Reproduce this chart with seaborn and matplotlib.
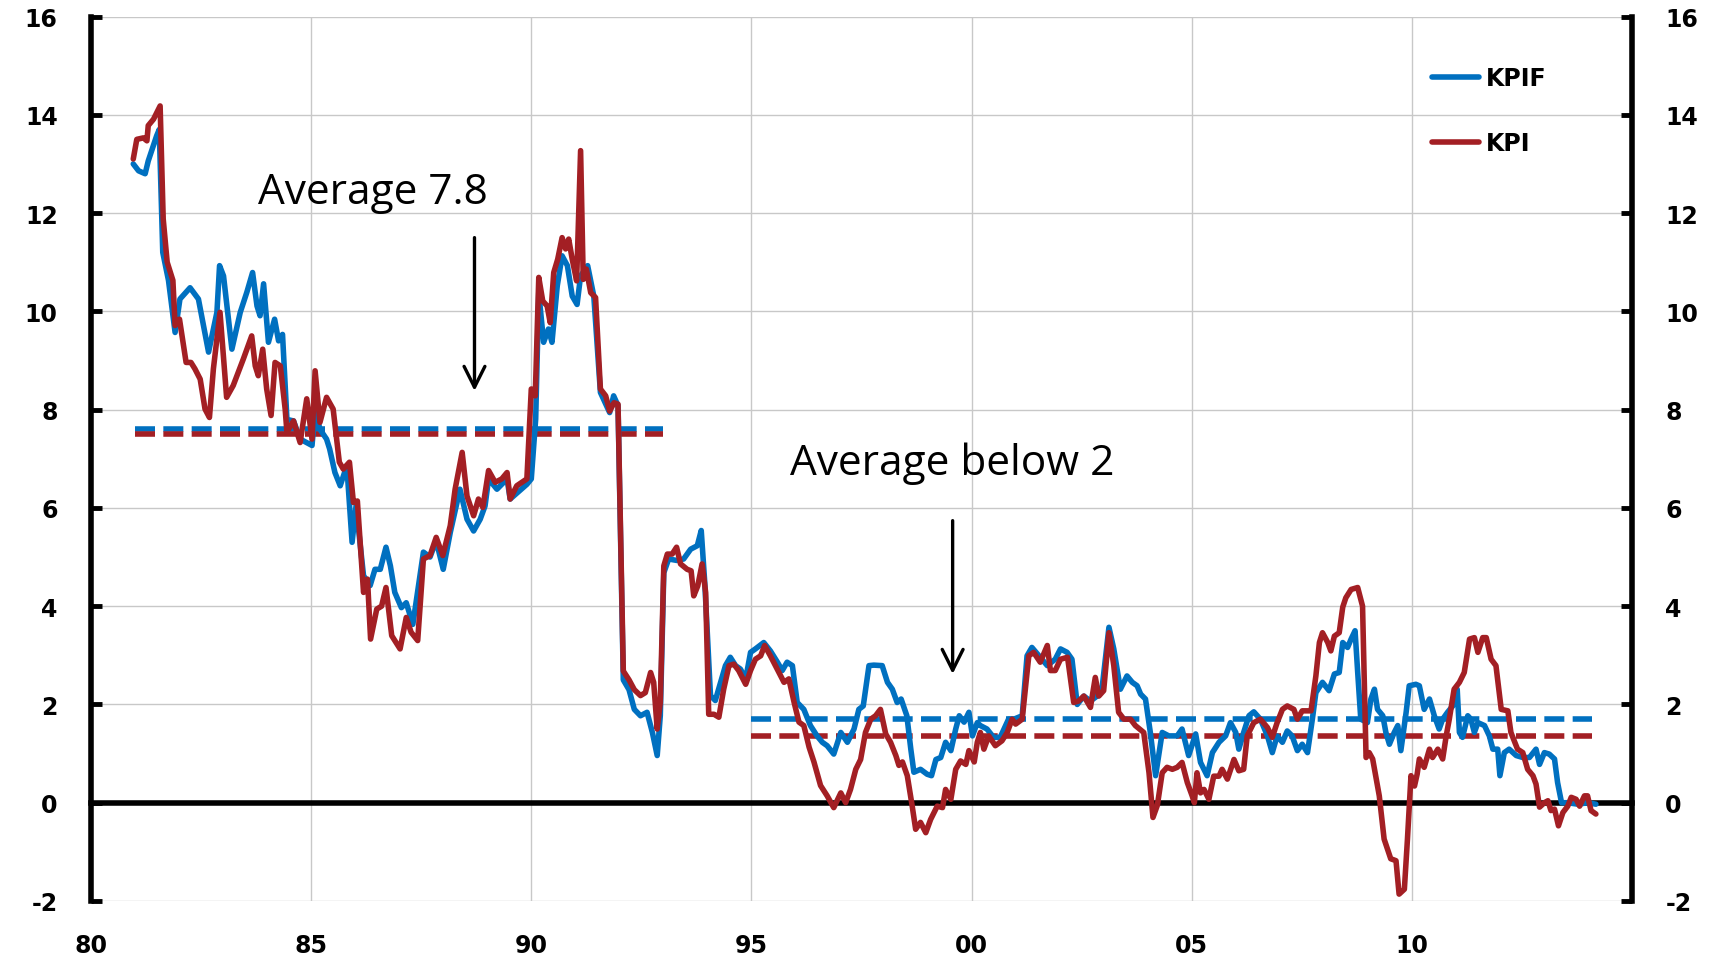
import pandas as pd
import matplotlib
matplotlib.use('Agg')
import matplotlib.pyplot as plt
from matplotlib.lines import Line2D
import seaborn as sns

# Data (annual % change, monthly-ish vertices)
kpif_year = [1980.96, 1981.08, 1981.23, 1981.3, 1981.49, 1981.55, 1981.63, 1981.76, 1981.91, 1982.02,
             1982.25, 1982.44, 1982.67, 1982.86, 1982.92, 1983.01, 1983.2, 1983.39, 1983.54, 1983.67,
             1983.77, 1983.84, 1983.92, 1984.03, 1984.17, 1984.26, 1984.35, 1984.45, 1984.6, 1984.75,
             1985.02, 1985.09, 1985.2, 1985.35, 1985.42, 1985.54, 1985.66, 1985.81, 1985.93, 1986.02,
             1986.19, 1986.34, 1986.45, 1986.57, 1986.7, 1986.8, 1986.9, 1987.05, 1987.16, 1987.31,
             1987.55, 1987.7, 1987.84, 1988.0, 1988.16, 1988.38, 1988.54, 1988.69, 1988.84, 1988.95,
             1989.03, 1989.22, 1989.45, 1989.52, 1989.9, 1990.0, 1990.1, 1990.17, 1990.28, 1990.39,
             1990.47, 1990.59, 1990.7, 1990.82, 1990.93, 1991.04, 1991.12, 1991.28, 1991.42, 1991.57,
             1991.78, 1991.87, 1991.97, 1992.09, 1992.22, 1992.34, 1992.48, 1992.63, 1992.75, 1992.86,
             1992.93, 1993.01, 1993.12, 1993.31, 1993.46, 1993.62, 1993.77, 1993.86, 1993.94, 1994.07,
             1994.18, 1994.3, 1994.41, 1994.52, 1994.64, 1994.75, 1994.87, 1994.98, 1995.09, 1995.28,
             1995.43, 1995.59, 1995.7, 1995.81, 1995.93, 1996.04, 1996.19, 1996.34, 1996.49, 1996.61,
             1996.72, 1996.87, 1997.03, 1997.18, 1997.33, 1997.44, 1997.54, 1997.67, 1997.78, 1997.97,
             1998.09, 1998.2, 1998.31, 1998.4, 1998.53, 1998.62, 1998.69, 1998.84, 1998.99, 1999.09,
             1999.19, 1999.3, 1999.41, 1999.53, 1999.64, 1999.72, 1999.83, 1999.94, 2000.02, 2000.13,
             2000.2, 2000.35, 2000.5, 2000.65, 2000.84, 2000.96, 2001.15, 2001.26, 2001.37, 2001.53,
             2001.72, 2001.9, 2002.02, 2002.17, 2002.28, 2002.4, 2002.55, 2002.7, 2002.85, 2002.97,
             2003.12, 2003.23, 2003.38, 2003.53, 2003.65, 2003.76, 2003.84, 2003.95, 2004.06, 2004.18,
             2004.33, 2004.48, 2004.67, 2004.78, 2004.93, 2005.09, 2005.2, 2005.35, 2005.47, 2005.62,
             2005.77, 2005.88, 2006.0, 2006.07, 2006.18, 2006.3, 2006.41, 2006.56, 2006.72, 2006.83,
             2006.94, 2007.06, 2007.17, 2007.28, 2007.4, 2007.51, 2007.63, 2007.74, 2007.82, 2007.97,
             2008.12, 2008.24, 2008.35, 2008.43, 2008.54, 2008.62, 2008.71, 2008.77, 2008.84, 2008.99,
             2009.07, 2009.15, 2009.22, 2009.34, 2009.41, 2009.49, 2009.6, 2009.68, 2009.75, 2009.87,
             2009.94, 2010.09, 2010.17, 2010.28, 2010.4, 2010.51, 2010.62, 2010.7, 2010.81, 2010.93,
             2011.03, 2011.08, 2011.15, 2011.27, 2011.34, 2011.42, 2011.5, 2011.65, 2011.76, 2011.84,
             2011.95, 2012.0, 2012.1, 2012.21, 2012.37, 2012.52, 2012.67, 2012.82, 2012.9, 2013.01,
             2013.12, 2013.24, 2013.31, 2013.4, 2013.54, 2013.77, 2014.0, 2014.18]
kpif_value = [13.0, 12.86, 12.8, 13.06, 13.57, 13.7, 11.2, 10.63, 9.57, 10.25,
              10.48, 10.25, 9.17, 9.98, 10.93, 10.72, 9.23, 9.98, 10.39, 10.79,
              10.11, 9.91, 10.56, 9.37, 9.84, 9.4, 9.53, 7.8, 7.77, 7.4,
              7.27, 8.0, 7.6, 7.4, 7.2, 6.72, 6.45, 6.86, 5.3, 6.04,
              4.62, 4.42, 4.75, 4.75, 5.2, 4.82, 4.28, 3.97, 4.07, 3.63,
              5.1, 5.0, 5.33, 4.75, 5.5, 6.38, 5.77, 5.53, 5.77, 6.04,
              6.59, 6.38, 6.59, 6.18, 6.48, 6.59, 7.81, 10.38, 9.37, 9.64,
              9.37, 10.52, 11.13, 10.93, 10.31, 10.14, 10.72, 10.93, 10.31, 8.35,
              7.94, 8.28, 8.08, 2.5, 2.3, 1.9, 1.77, 1.84, 1.43, 0.96,
              1.77, 4.68, 4.96, 4.93, 4.96, 5.16, 5.23, 5.54, 4.48, 2.18,
              2.08, 2.45, 2.79, 2.96, 2.79, 2.72, 2.52, 3.06, 3.13, 3.26,
              3.09, 2.86, 2.69, 2.86, 2.79, 2.04, 1.9, 1.57, 1.36, 1.23,
              1.16, 0.99, 1.43, 1.23, 1.5, 1.9, 1.97, 2.79, 2.8, 2.79,
              2.45, 2.31, 2.04, 2.11, 1.77, 1.09, 0.62, 0.68, 0.58, 0.55,
              0.88, 0.92, 1.23, 1.06, 1.5, 1.77, 1.64, 1.84, 1.36, 1.63,
              1.57, 1.5, 1.33, 1.33, 1.7, 1.7, 1.77, 2.99, 3.16, 2.99,
              2.79, 2.92, 3.13, 3.06, 2.92, 2.0, 2.17, 2.07, 2.17, 2.38,
              3.57, 3.13, 2.31, 2.58, 2.45, 2.38, 2.21, 2.11, 1.43, 0.55,
              1.43, 1.36, 1.36, 1.5, 0.96, 1.4, 0.82, 0.55, 1.02, 1.23,
              1.36, 1.63, 1.43, 1.09, 1.43, 1.77, 1.85, 1.7, 1.36, 1.02,
              1.36, 1.23, 1.46, 1.36, 1.06, 1.19, 1.02, 1.7, 2.24, 2.45,
              2.28, 2.62, 2.65, 3.26, 3.16, 3.33, 3.5, 2.65, 1.7, 1.63,
              2.11, 2.31, 1.9, 1.77, 1.43, 1.19, 1.43, 1.57, 1.06, 1.84,
              2.38, 2.41, 2.38, 1.9, 2.11, 1.77, 1.5, 1.7, 1.84, 1.97,
              2.31, 1.43, 1.33, 1.77, 1.7, 1.43, 1.63, 1.57, 1.36, 1.09,
              1.09, 0.55, 1.02, 1.09, 0.96, 0.92, 0.92, 1.09, 0.78, 1.02,
              0.99, 0.89, 0.41, 0.0, 0.0, -0.03, 0.0, -0.03]

kpi_year = [1980.96, 1981.04, 1981.19, 1981.27, 1981.3, 1981.42, 1981.57, 1981.64, 1981.73, 1981.86,
            1981.91, 1982.01, 1982.16, 1982.27, 1982.36, 1982.48, 1982.59, 1982.69, 1982.78, 1982.93,
            1983.08, 1983.23, 1983.46, 1983.65, 1983.73, 1983.8, 1983.9, 1983.99, 1984.09, 1984.18,
            1984.3, 1984.41, 1984.45, 1984.6, 1984.75, 1984.9, 1985.02, 1985.09, 1985.2, 1985.35,
            1985.5, 1985.64, 1985.73, 1985.87, 1985.96, 1986.05, 1986.19, 1986.28, 1986.35, 1986.49,
            1986.6, 1986.7, 1986.83, 1987.02, 1987.16, 1987.27, 1987.42, 1987.55, 1987.7, 1987.84,
            1987.99, 1988.16, 1988.27, 1988.43, 1988.54, 1988.69, 1988.8, 1988.9, 1989.03, 1989.18,
            1989.33, 1989.45, 1989.52, 1989.67, 1989.9, 1990.0, 1990.09, 1990.17, 1990.26, 1990.36,
            1990.43, 1990.51, 1990.6, 1990.7, 1990.78, 1990.85, 1990.93, 1991.03, 1991.12, 1991.18,
            1991.25, 1991.35, 1991.46, 1991.57, 1991.69, 1991.78, 1991.88, 1991.97, 1992.09, 1992.22,
            1992.34, 1992.48, 1992.59, 1992.71, 1992.78, 1992.86, 1992.93, 1993.01, 1993.09, 1993.2,
            1993.3, 1993.39, 1993.54, 1993.63, 1993.69, 1993.78, 1993.88, 1993.96, 1994.03, 1994.15,
            1994.26, 1994.37, 1994.49, 1994.6, 1994.71, 1994.87, 1994.98, 1995.09, 1995.21, 1995.3,
            1995.43, 1995.59, 1995.74, 1995.85, 1995.97, 1996.08, 1996.19, 1996.31, 1996.42, 1996.57,
            1996.72, 1996.87, 1997.03, 1997.14, 1997.25, 1997.37, 1997.48, 1997.59, 1997.71, 1997.82,
            1997.93, 1998.05, 1998.16, 1998.28, 1998.35, 1998.43, 1998.54, 1998.65, 1998.73, 1998.84,
            1998.96, 1999.07, 1999.22, 1999.34, 1999.41, 1999.53, 1999.64, 1999.75, 1999.87, 1999.94,
            2000.06, 2000.13, 2000.2, 2000.28, 2000.39, 2000.54, 2000.69, 2000.81, 2000.92, 2001.0,
            2001.15, 2001.22, 2001.3, 2001.41, 2001.56, 2001.72, 2001.79, 2001.9, 2002.02, 2002.18,
            2002.32, 2002.43, 2002.55, 2002.7, 2002.81, 2002.89, 2003.0, 2003.12, 2003.23, 2003.34,
            2003.46, 2003.61, 2003.72, 2003.91, 2004.03, 2004.12, 2004.22, 2004.33, 2004.44, 2004.56,
            2004.67, 2004.78, 2004.9, 2005.01, 2005.06, 2005.12, 2005.2, 2005.28, 2005.39, 2005.5,
            2005.62, 2005.69, 2005.81, 2005.96, 2006.07, 2006.18, 2006.26, 2006.41, 2006.56, 2006.72,
            2006.83, 2006.94, 2007.06, 2007.17, 2007.32, 2007.4, 2007.51, 2007.71, 2007.82, 2007.9,
            2007.97, 2008.09, 2008.16, 2008.24, 2008.35, 2008.43, 2008.5, 2008.62, 2008.77, 2008.88,
            2008.96, 2009.03, 2009.11, 2009.26, 2009.37, 2009.52, 2009.64, 2009.71, 2009.83, 2009.9,
            2009.98, 2010.06, 2010.12, 2010.17, 2010.28, 2010.4, 2010.47, 2010.59, 2010.7, 2010.78,
            2010.85, 2010.96, 2011.08, 2011.19, 2011.31, 2011.42, 2011.5, 2011.61, 2011.69, 2011.8,
            2011.91, 2012.03, 2012.18, 2012.25, 2012.4, 2012.52, 2012.63, 2012.75, 2012.82, 2012.9,
            2013.01, 2013.09, 2013.16, 2013.24, 2013.33, 2013.43, 2013.54, 2013.62, 2013.73, 2013.81,
            2013.92, 2013.99, 2014.07, 2014.18]
kpi_value = [13.1, 13.5, 13.53, 13.47, 13.78, 13.91, 14.18, 11.88, 11.0, 10.63,
             9.71, 9.84, 8.96, 8.96, 8.83, 8.62, 8.01, 7.84, 8.83, 9.98,
             8.25, 8.49, 9.03, 9.5, 8.89, 8.69, 9.23, 8.42, 7.88, 8.96,
             8.89, 8.01, 7.54, 7.77, 7.33, 8.22, 7.4, 8.79, 7.74, 8.25,
             8.01, 6.93, 6.79, 6.93, 6.11, 6.14, 4.28, 4.55, 3.33, 3.94,
             4.0, 4.38, 3.4, 3.13, 3.77, 3.47, 3.3, 4.96, 5.03, 5.4,
             5.03, 5.64, 6.38, 7.13, 6.24, 5.84, 6.18, 6.01, 6.76, 6.52,
             6.59, 6.72, 6.18, 6.45, 6.59, 8.42, 8.28, 10.69, 10.21, 10.11,
             9.77, 10.79, 11.06, 11.5, 11.27, 11.47, 11.06, 10.62, 13.27, 10.65,
             10.86, 10.38, 10.28, 8.42, 8.28, 7.97, 8.14, 8.11, 2.68, 2.5,
             2.3, 2.18, 2.24, 2.65, 2.45, 1.5, 2.04, 4.82, 5.06, 5.06,
             5.2, 4.86, 4.75, 4.72, 4.21, 4.41, 4.86, 4.28, 1.8, 1.8,
             1.74, 2.31, 2.79, 2.82, 2.69, 2.41, 2.69, 2.92, 2.99, 3.2,
             2.99, 2.71, 2.45, 2.52, 2.04, 1.64, 1.57, 1.13, 0.83, 0.35,
             0.14, -0.1, 0.2, 0.0, 0.27, 0.68, 0.88, 1.43, 1.7, 1.77,
             1.9, 1.4, 1.23, 0.96, 0.76, 0.83, 0.55, -0.06, -0.54, -0.4,
             -0.61, -0.34, -0.07, -0.1, 0.27, 0.07, 0.68, 0.85, 0.78, 1.06,
             0.83, 1.23, 1.43, 1.09, 1.36, 1.16, 1.26, 1.43, 1.7, 1.6,
             1.7, 2.31, 2.99, 3.06, 2.86, 3.2, 2.69, 2.69, 2.92, 2.96,
             2.04, 2.07, 2.17, 1.94, 2.55, 2.17, 2.28, 3.46, 2.79, 1.84,
             1.7, 1.7, 1.57, 1.43, 0.61, -0.3, -0.05, 0.61, 0.72, 0.68,
             0.72, 0.82, 0.41, 0.14, 0.0, 0.61, 0.2, 0.27, 0.07, 0.54,
             0.54, 0.68, 0.48, 0.88, 0.65, 0.68, 1.36, 1.63, 1.7, 1.53,
             1.33, 1.63, 1.9, 1.97, 1.9, 1.7, 1.87, 1.87, 2.58, 3.26,
             3.46, 3.26, 3.09, 3.39, 3.46, 3.98, 4.17, 4.34, 4.38, 4.0,
             0.92, 1.02, 0.89, 0.14, -0.74, -1.14, -1.18, -1.86, -1.76, -0.74,
             0.55, 0.34, 0.58, 0.89, 0.72, 1.09, 0.92, 1.09, 0.89, 1.36,
             1.7, 2.31, 2.45, 2.65, 3.33, 3.36, 3.06, 3.36, 3.36, 2.92,
             2.79, 1.9, 1.87, 1.43, 1.09, 1.02, 0.68, 0.55, 0.38, -0.09,
             0.0, 0.04, -0.16, -0.13, -0.47, -0.2, -0.07, 0.11, 0.07, -0.07,
             0.14, 0.14, -0.16, -0.23]

# Period averages (dashed lines)
avg_start = [1981.0, 1995.0]
avg_end = [1993.0, 2014.1]
kpif_avg = [7.6, 1.7]
kpi_avg = [7.5, 1.35]

year_ticks = [1980, 1985, 1990, 1995, 2000, 2005, 2010, 2015]
year_labels = ['80', '85', '90', '95', '00', '05', '10', '']
value_ticks = list(range(-2, 17, 2))

BLUE = '#0070C0'
RED = '#A31F24'
LW = 4.0
TICK_SIZE = 17

df = pd.concat([
    pd.DataFrame({'year': kpif_year, 'value': kpif_value, 'series': 'KPIF'}),
    pd.DataFrame({'year': kpi_year, 'value': kpi_value, 'series': 'KPI'}),
])

sns.set_style('white')
plt.rcParams['font.family'] = ['DejaVu Sans']
plt.rcParams['text.color'] = 'black'

fig = plt.figure(figsize=(17.24, 9.62), dpi=100)
ax = fig.add_axes([91 / 1724, 1 - 902 / 962, 1541 / 1724, 884.5 / 962])

# dashed averages underneath the series
dash = (0, (3.6, 1.5))
ax.hlines(kpif_avg, avg_start, avg_end, colors=BLUE, linestyles=dash, lw=LW, zorder=2)
ax.hlines(kpi_avg, avg_start, avg_end, colors=RED, linestyles=dash, lw=LW, zorder=2)

sns.lineplot(data=df, x='year', y='value', hue='series', hue_order=['KPIF', 'KPI'],
             palette={'KPIF': BLUE, 'KPI': RED}, estimator=None, sort=False,
             lw=LW, legend=False, ax=ax, zorder=3)
for ln in ax.lines:
    ln.set_solid_joinstyle('round')
    ln.set_solid_capstyle('round')

ax.set_xlim(1980, 2015)
ax.set_ylim(-2, 16)
ax.set_xlabel('')
ax.set_ylabel('')

# grid
ax.set_axisbelow(True)
ax.set_xticks(year_ticks)
ax.set_xticklabels(year_labels)
ax.set_yticks(value_ticks)
ax.set_yticklabels([str(v) for v in value_ticks])
ax.grid(True, color='#C8C8C8', lw=1.0)

# x axis crosses at zero, labels kept at the bottom
ax.spines['top'].set_visible(False)
ax.spines['bottom'].set_visible(True)
ax.spines['bottom'].set_position(('data', 0))
ax.spines['bottom'].set_zorder(2.5)
for side in ['left', 'right', 'bottom']:
    ax.spines[side].set_color('black')
    ax.spines[side].set_linewidth(4)

ax.tick_params(axis='y', which='both', direction='in', length=8, width=3.5,
               left=True, right=True, labelleft=True, labelright=True, pad=24,
               labelsize=TICK_SIZE, colors='black')
ax.tick_params(axis='x', direction='in', length=8, width=4, pad=94,
               labelsize=TICK_SIZE, colors='black')
for lab in ax.get_xticklabels() + ax.get_yticklabels():
    lab.set_fontweight('bold')
for t in ax.yaxis.get_major_ticks():
    t.label2.set_fontweight('bold')

# annotations
ax.text(1983.8, 12.2, 'Average 7.8', fontsize=30.5, family='Open Sans', color='black',
        va='baseline', ha='left')
ax.text(1995.87, 6.69, 'Average below 2', fontsize=30.5, family='Open Sans', color='black',
        va='baseline', ha='left')
arrow = dict(arrowstyle='->,head_length=1.5,head_width=0.75', lw=2.4, color='black',
             shrinkA=0, shrinkB=0)
ax.annotate('', xy=(1988.71, 8.38), xytext=(1988.71, 11.5), arrowprops=arrow)
ax.annotate('', xy=(1999.57, 2.62), xytext=(1999.57, 5.74), arrowprops=arrow)

# legend
handles = [Line2D([], [], color=BLUE, lw=LW, solid_capstyle='round'),
           Line2D([], [], color=RED, lw=LW, solid_capstyle='round')]
ax.legend(handles, ['KPIF', 'KPI'], loc='upper left', bbox_to_anchor=(0.870, 0.944),
          frameon=False, handlelength=2.0, handletextpad=0.3, labelspacing=1.75,
          borderpad=0, borderaxespad=0, prop={'weight': 'bold', 'size': TICK_SIZE})

fig.savefig('out.png', dpi=100)
